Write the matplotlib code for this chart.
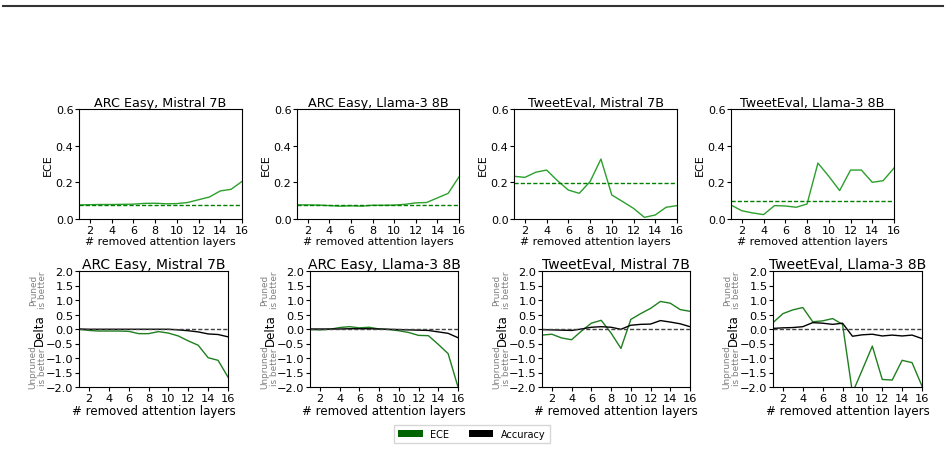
import matplotlib
matplotlib.use('Agg')
import matplotlib.pyplot as plt
from matplotlib.patches import Patch
from matplotlib.lines import Line2D
import numpy as np

# removed layers
layers = np.arange(1, 17)

titles = ['ARC Easy, Mistral 7B', 'ARC Easy, Llama-3 8B',
          'TweetEval, Mistral 7B', 'TweetEval, Llama-3 8B']

# ECE of pruned models (top row)
ece_arc_mistral = [0.077, 0.078, 0.079, 0.079, 0.080, 0.081, 0.085, 0.086,
                   0.083, 0.084, 0.090, 0.105, 0.120, 0.153, 0.162, 0.205]
ece_arc_llama = [0.077, 0.077, 0.076, 0.073, 0.070, 0.072, 0.070, 0.075,
                 0.075, 0.076, 0.080, 0.088, 0.090, 0.115, 0.140, 0.230]
ece_tweet_mistral = [0.233, 0.227, 0.255, 0.267, 0.209, 0.158, 0.140, 0.204,
                     0.327, 0.131, 0.095, 0.058, 0.009, 0.022, 0.064, 0.073]
ece_tweet_llama = [0.076, 0.045, 0.033, 0.024, 0.073, 0.071, 0.064, 0.082,
                   0.305, 0.233, 0.155, 0.267, 0.267, 0.200, 0.209, 0.278]
ece_top = [ece_arc_mistral, ece_arc_llama, ece_tweet_mistral, ece_tweet_llama]

# ECE of the unpruned model (dashed line)
ece_base = [0.076, 0.075, 0.195, 0.096]

# Delta of ECE (bottom row, green)
d_ece_arc_mistral = [-0.01, -0.05, -0.07, -0.07, -0.07, -0.08, -0.16, -0.16,
                     -0.09, -0.14, -0.24, -0.41, -0.56, -0.99, -1.08, -1.66]
d_ece_arc_llama = [-0.02, -0.03, -0.01, 0.05, 0.08, 0.04, 0.06, 0.00,
                   -0.02, -0.06, -0.12, -0.22, -0.23, -0.53, -0.85, -2.00]
d_ece_tweet_mistral = [-0.21, -0.18, -0.31, -0.37, -0.07, 0.20, 0.30, -0.14,
                       -0.67, 0.33, 0.53, 0.71, 0.95, 0.89, 0.67, 0.61]
d_ece_tweet_llama = [0.22, 0.53, 0.66, 0.74, 0.25, 0.28, 0.36, 0.16,
                     -2.20, -1.40, -0.59, -1.74, -1.76, -1.08, -1.16, -1.97]
d_ece = [d_ece_arc_mistral, d_ece_arc_llama, d_ece_tweet_mistral, d_ece_tweet_llama]

# Delta of accuracy (bottom row, black)
d_acc_arc_mistral = [0.0, -0.01, -0.01, -0.01, -0.01, -0.01, -0.01, -0.01,
                     -0.01, -0.01, -0.03, -0.06, -0.10, -0.17, -0.19, -0.27]
d_acc_arc_llama = [0.0, 0.0, 0.0, 0.0, 0.01, 0.01, 0.01, 0.0,
                   -0.01, -0.02, -0.03, -0.04, -0.05, -0.10, -0.15, -0.30]
d_acc_tweet_mistral = [-0.02, -0.03, -0.04, -0.05, 0.00, 0.06, 0.08, 0.06,
                       -0.01, 0.13, 0.16, 0.17, 0.29, 0.24, 0.18, 0.08]
d_acc_tweet_llama = [0.02, 0.04, 0.05, 0.08, 0.22, 0.20, 0.16, 0.20,
                     -0.25, -0.20, -0.18, -0.24, -0.21, -0.24, -0.21, -0.33]
d_acc = [d_acc_arc_mistral, d_acc_arc_llama, d_acc_tweet_mistral, d_acc_tweet_llama]

W, H = 948, 452
fig = plt.figure(figsize=(W / 100, H / 100), dpi=100)

def px(l, t, r, b):  # pixel box -> figure coords
    return [l / W, 1 - b / H, (r - l) / W, (b - t) / H]

top_boxes = [(79, 110, 242, 220), (297, 110, 459, 220),
             (514, 110, 677, 220), (731, 110, 894, 220)]
bot_boxes = [(79, 272, 228, 388), (310, 272, 458, 388),
             (542, 272, 690, 388), (773, 272, 922, 388)]

top_green = '#2ca02c'
bot_green = '#1f7f1f'

# top row: ECE
for i in range(4):
    ax = fig.add_axes(px(*top_boxes[i]))
    ax.plot(layers, ece_top[i], color=top_green, lw=1)
    ax.axhline(ece_base[i], color='green', ls=(0, (3, 1.5)), lw=1)
    ax.set_xlim(1, 16)
    ax.set_ylim(0, 0.6)
    ax.set_xticks(range(2, 17, 2))
    ax.set_yticks([0.0, 0.2, 0.4, 0.6])
    ax.tick_params(labelsize=8, length=3, pad=1)
    ax.set_title(titles[i], fontsize=9.2, pad=2)
    ax.set_ylabel('ECE', fontsize=8, labelpad=2)
    ax.set_xlabel('# removed attention layers', fontsize=7.8, labelpad=1)

# bottom row: deltas
for i in range(4):
    ax = fig.add_axes(px(*bot_boxes[i]))
    ax.plot(layers, d_ece[i], color=bot_green, lw=1)
    ax.plot(layers, d_acc[i], color='black', lw=1)
    ax.axhline(0, color='#444444', ls=(0, (3, 1.5)), lw=1)
    ax.set_xlim(1, 16)
    ax.set_ylim(-2, 2)
    ax.set_xticks(range(2, 17, 2))
    ax.set_yticks(np.arange(-2, 2.01, 0.5))
    ax.tick_params(labelsize=8.2, length=3, pad=1)
    ax.set_title(titles[i], fontsize=10, pad=2)
    ax.set_xlabel('# removed attention layers', fontsize=8.5, labelpad=1)
    ax.set_ylabel('Delta', fontsize=8.5, labelpad=0)
    ax.text(-0.275, 0.845, 'Pruned\nis better', transform=ax.transAxes,
            rotation=90, ha='center', va='center', fontsize=6.4,
            color='gray', linespacing=1.1)
    ax.text(-0.275, 0.18, 'Unpruned\nis better', transform=ax.transAxes,
            rotation=90, ha='center', va='center', fontsize=6.4,
            color='gray', linespacing=1.1)

handles = [Patch(facecolor='darkgreen', label='ECE'),
           Patch(facecolor='black', label='Accuracy')]
fig.legend(handles=handles, loc='center', bbox_to_anchor=(472 / W, 1 - 435 / H),
           ncol=2, fontsize=7, frameon=True, fancybox=False,
           handlelength=2.5, handleheight=0.8, columnspacing=2.0,
           borderpad=0.4, edgecolor='#cccccc')

fig.add_artist(Line2D([3 / W, 943 / W], [1 - 7 / H, 1 - 7 / H],
                      color='#333333', lw=1.5, transform=fig.transFigure))

fig.savefig('out.png', dpi=100)
